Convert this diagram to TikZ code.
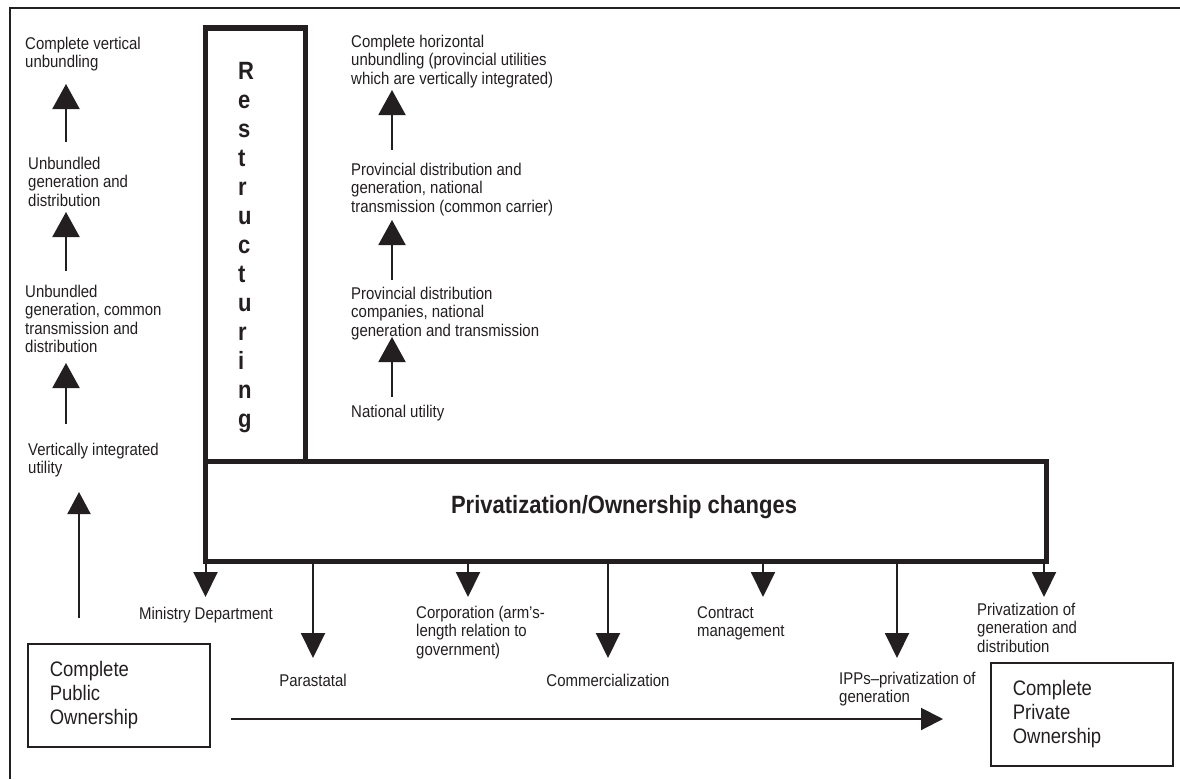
\documentclass[tikz,border=0pt]{standalone}
\usepackage{fontspec}
\setmainfont{Liberation Sans}[FakeStretch=0.88]
\usetikzlibrary{arrows.meta}
\definecolor{ink}{RGB}{35,31,32}
\begin{document}
\begin{tikzpicture}[x=1pt,y=-1pt,
  lbl/.style={inner sep=0pt, align=left, anchor=north west, text=ink, font=\fontsize{17}{18.4}\selectfont},
  clbl/.style={inner sep=0pt, anchor=base, text=ink, font=\fontsize{17}{18.4}\selectfont},
  thickbox/.style={draw=ink, line width=5.5pt, inner sep=0pt},
  boldtxt/.style={inner sep=0pt, text=ink, font=\bfseries\fontsize{25}{29}\selectfont},
  ownbox/.style={draw=ink, line width=1.7pt, inner ysep=0pt, inner xsep=22pt, anchor=north west, align=left, text width=138pt, minimum height=103pt, text=ink, font=\fontsize{21}{24}\selectfont},
  uparr/.style={draw=ink, line width=2pt, -{Triangle[width=27pt,length=25pt]}},
  dnarr/.style={draw=ink, line width=2pt, -{Triangle[width=24pt,length=25pt]}},
  harr/.style={draw=ink, line width=2pt, -{Triangle[width=22pt,length=22pt]}}
]
\useasboundingbox (0,0) rectangle (1180,779);
% outer frame (cropped)
\draw[ink, line width=2pt] (10,779) -- (10,7.5) -- (1180,7.5);

% main boxes
\node[thickbox, minimum width=100pt, minimum height=433.7pt] (restr) at (255.5,244.65) {};
\node[thickbox, minimum width=841pt, minimum height=100pt] (privbox) at (626,511.5) {};
\node[boldtxt, anchor=north west, align=left] (restrtxt) at (238,62) {R\\e\\s\\t\\r\\u\\c\\t\\u\\r\\i\\n\\g};
\node[boldtxt, anchor=base] (privtxt) at (624,513) {Privatization/Ownership changes};

% left column
\node[lbl] (l1) at (25,37) {Complete vertical\\unbundling};
\node[lbl] (l2) at (28,157) {Unbundled\\generation and\\distribution};
\node[lbl] (l3) at (25,285) {Unbundled\\generation, common\\transmission and\\distribution};
\node[lbl] (l4) at (28,443) {Vertically integrated\\utility};
\coordinate (la1s) at (66,142); \coordinate (la1e) at (66,84);
\coordinate (la2s) at (66,271); \coordinate (la2e) at (66,212);
\coordinate (la3s) at (66,424); \coordinate (la3e) at (66,363);
\coordinate (la4s) at (79,618); \coordinate (la4e) at (79,492);
\draw[uparr] (la1s) -- (la1e);
\draw[uparr] (la2s) -- (la2e);
\draw[uparr] (la3s) -- (la3e);
\draw[draw=ink, line width=2pt, -{Triangle[width=23pt,length=22pt]}] (la4s) -- (la4e);

% middle column
\node[lbl] (m1) at (351,35) {Complete horizontal\\unbundling (provincial utilities\\which are vertically integrated)};
\node[lbl] (m2) at (351,163) {Provincial distribution and\\generation, national\\transmission (common carrier)};
\node[lbl] (m3) at (351,287) {Provincial distribution\\companies, national\\generation and transmission};
\node[lbl] (m4) at (351,405) {National utility};
\coordinate (ma1s) at (392,150); \coordinate (ma1e) at (392,90);
\coordinate (ma2s) at (392,280); \coordinate (ma2e) at (392,220);
\coordinate (ma3s) at (392,397); \coordinate (ma3e) at (392,337);
\draw[uparr] (ma1s) -- (ma1e);
\draw[uparr] (ma2s) -- (ma2e);
\draw[uparr] (ma3s) -- (ma3e);

% downward arrows
\coordinate (tMin) at (205.5,597);
\coordinate (tPar) at (313,658);
\coordinate (tCor) at (468,597);
\coordinate (tCom) at (608,658);
\coordinate (tCon) at (763,597);
\coordinate (tIPP) at (897,658);
\coordinate (tPri) at (1044,597);
\foreach \t in {tMin,tPar,tCor,tCom,tCon,tIPP,tPri}
  \draw[dnarr] (privbox.south -| \t) -- (\t);

\node[clbl] (b1) at (206,619) {Ministry Department};
\node[clbl] (b2) at (313,686) {Parastatal};
\node[lbl] (b3) at (416,606) {Corporation (arm's-\\length relation to\\government)};
\node[clbl] (b4) at (608,686) {Commercialization};
\node[lbl] (b5) at (697,606) {Contract\\management};
\node[lbl] (b6) at (839,672) {IPPs--privatization of\\generation};
\node[lbl] (b7) at (977,603) {Privatization of\\generation and\\distribution};

% ownership boxes
\node[ownbox] (pub) at (27,643) {Complete\\Public\\Ownership};
\node[ownbox] (prv) at (990,662) {Complete\\Private\\Ownership};
\coordinate (hs) at (231,719);
\coordinate (he) at (943,719);
\draw[harr] (hs) -- (he);
\end{tikzpicture}
\end{document}
